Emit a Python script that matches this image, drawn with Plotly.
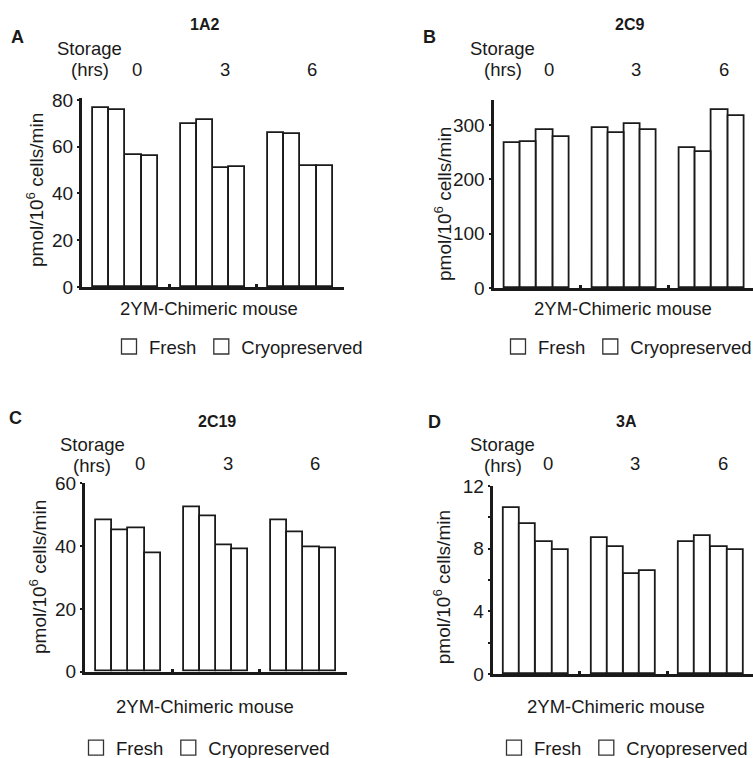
import plotly.graph_objects as go

W, H = 753, 758
FONT = "Liberation Sans, Arial, sans-serif"
INK = "#1a1a1a"

# ---------------- data ----------------
storage_hours = ["0", "3", "6"]
series_names = ["Fresh", "Cryopreserved"]
panel_letters = ["A", "B", "C", "D"]
panel_titles = ["1A2", "2C9", "2C19", "3A"]
y_title = "pmol/10<sup>6</sup> cells/min"
x_title = "2YM-Chimeric mouse"
storage_label = "Storage"
hrs_label = "(hrs)"

# order: [0h mouse1, 0h mouse2, 3h mouse1, 3h mouse2, 6h mouse1, 6h mouse2]
A_fresh = [76.4, 56.5, 69.7, 50.8, 66.0, 51.8]
A_cryo = [75.6, 56.2, 71.4, 51.1, 65.4, 51.8]
B_fresh = [267, 291, 294, 301, 257, 327]
B_cryo = [269, 278, 285, 291, 250, 317]
C_fresh = [48.1, 45.7, 52.5, 40.4, 48.1, 39.6]
C_cryo = [44.9, 37.7, 49.6, 39.1, 44.5, 39.3]
D_fresh = [10.6, 8.4, 8.7, 6.4, 8.4, 8.1]
D_cryo = [9.6, 7.9, 8.1, 6.6, 8.8, 7.9]

A_ticks = [0, 20, 40, 60, 80]
B_ticks = [0, 100, 200, 300]
C_ticks = [0, 20, 40, 60]
D_ticks = [0, 4, 8, 12]
D_minor = [2, 6, 10]

# ---------------- layout constants (pixels) ----------------
PX_PER_UNIT = 16.2
AXIS_LEN = 262
LEFT_PAD = 0.68
GROUP_STEP = 5.4
LABEL_SHIFT = 0.72
TXT = 18.5

panels = [
    dict(fresh=A_fresh, cryo=A_cryo, ticks=A_ticks, minor=None, ytop=80.8,
         x0=82, y0=287, ytop_px=98,
         letter=(17.5, 37.5), title=(204, 25), storage=(89, 49), hrs=(90, 69.5), hrs_y=69,
         ytitle=(35, 190), xtitle=(209, 309), legend=(109, 347)),
    dict(fresh=B_fresh, cryo=B_cryo, ticks=B_ticks, minor=None, ytop=346,
         x0=493.5, y0=288, ytop_px=100,
         letter=(429, 37), title=(629, 25), storage=(503, 49), hrs=(503, 69.5), hrs_y=69,
         ytitle=(443, 204), xtitle=(623, 309), legend=(498, 347)),
    dict(fresh=C_fresh, cryo=C_cryo, ticks=C_ticks, minor=None, ytop=60,
         x0=85, y0=671.7, ytop_px=483.3,
         letter=(15.8, 417.5), title=(216.7, 421.7), storage=(92.5, 444.7), hrs=(91.7, 465.8), hrs_y=463,
         ytitle=(38, 577), xtitle=(205, 706.7), legend=(76, 748)),
    dict(fresh=D_fresh, cryo=D_cryo, ticks=D_ticks, minor=D_minor, ytop=12,
         x0=492.7, y0=674, ytop_px=486,
         letter=(434, 422.5), title=(626.7, 421.7), storage=(502.5, 444), hrs=(503.3, 465.8), hrs_y=463,
         ytitle=(441.7, 587.5), xtitle=(615.8, 706.7), legend=(494, 748)),
]


def px(x):
    return x / W


def py(y):
    return 1 - y / H


fig = go.Figure()
annotations = []
layout_axes = {}


def ann(text, x, y, size=TXT, angle=0, weight="normal"):
    annotations.append(dict(
        text=text, x=px(x), y=py(y), xref="paper", yref="paper", showarrow=False,
        xanchor="center", yanchor="middle", textangle=angle,
        font=dict(family=FONT, size=size, color=INK, weight=weight),
    ))


for k, p in enumerate(panels):
    sfx = "" if k == 0 else str(k + 1)
    xa, ya = "x" + sfx, "y" + sfx
    leg = "legend" + sfx
    # bar positions from group index, mouse index and series index
    for s, (name, vals) in enumerate(zip(series_names, [p["fresh"], p["cryo"]])):
        xs, ys = [], []
        for g in range(len(storage_hours)):
            for m in range(2):
                slot = 2 * m + s
                xs.append(LEFT_PAD + GROUP_STEP * g + slot + 0.5)
                ys.append(vals[2 * g + m])
        fig.add_trace(go.Bar(
            x=xs, y=ys, width=1, name=name, xaxis=xa, yaxis=ya,
            marker=dict(color="white", line=dict(color=INK, width=1.8)),
            showlegend=False, legend=leg,
        ))
        # legend-only marker
        fig.add_trace(go.Scatter(
            x=[None], y=[None], mode="markers", name=name, xaxis=xa, yaxis=ya,
            marker=dict(symbol="square-open", size=15, color="#333", line=dict(width=1.3)),
            showlegend=True, legend=leg,
        ))

    right_px = min(p["x0"] + AXIS_LEN, W)
    xmax = (right_px - p["x0"]) / PX_PER_UNIT
    gaps = [LEFT_PAD + GROUP_STEP * g + 4 + (GROUP_STEP - 4) / 2 for g in range(2)]
    layout_axes["xaxis" + sfx] = dict(
        domain=[px(p["x0"]), px(right_px)], range=[0, xmax], anchor=ya,
        showline=True, linecolor=INK, linewidth=3, showgrid=False, zeroline=False,
        tickvals=gaps, ticks="inside", ticklen=3, tickwidth=3, tickcolor=INK,
        showticklabels=False, fixedrange=True,
    )
    yd = dict(
        domain=[py(p["y0"]), py(p["ytop_px"])], range=[0, p["ytop"]], anchor=xa,
        showline=True, linecolor=INK, linewidth=3, showgrid=False, zeroline=False,
        tickvals=p["ticks"], ticks="outside", ticklen=2, tickwidth=2, tickcolor=INK,
        tickfont=dict(family=FONT, size=19, color=INK), ticklabelstandoff=0,
        fixedrange=True,
    )
    if p["minor"]:
        yd["minor"] = dict(tickvals=p["minor"], ticks="outside", ticklen=2, tickwidth=2, tickcolor=INK)
    layout_axes["yaxis" + sfx] = yd

    layout_axes[leg] = dict(
        orientation="h", x=px(p["legend"][0]), y=py(p["legend"][1]),
        xanchor="left", yanchor="middle", bgcolor="rgba(0,0,0,0)",
        font=dict(family=FONT, size=TXT, color=INK), itemclick=False, itemdoubleclick=False,
    )

    ann(panel_letters[k], *p["letter"], size=18, weight="bold")
    ann(panel_titles[k], *p["title"], size=16, weight="bold")
    ann(storage_label, *p["storage"])
    ann(hrs_label, *p["hrs"])
    ann(y_title, *p["ytitle"], size=19, angle=-90)
    ann(x_title, *p["xtitle"])
    for g, lab in enumerate(storage_hours):
        annotations.append(dict(
            text=lab, x=LEFT_PAD + GROUP_STEP * g + 2 + LABEL_SHIFT, y=py(p["hrs_y"]),
            xref=xa, yref="paper", showarrow=False, xanchor="center", yanchor="middle",
            font=dict(family=FONT, size=TXT, color=INK),
        ))

fig.update_layout(
    width=W, height=H, autosize=False,
    margin=dict(l=0, r=0, t=0, b=0, pad=0, autoexpand=False),
    paper_bgcolor="white", plot_bgcolor="white",
    barmode="overlay", bargap=0,
    annotations=annotations,
    **layout_axes,
)

fig.write_html("out.html")
